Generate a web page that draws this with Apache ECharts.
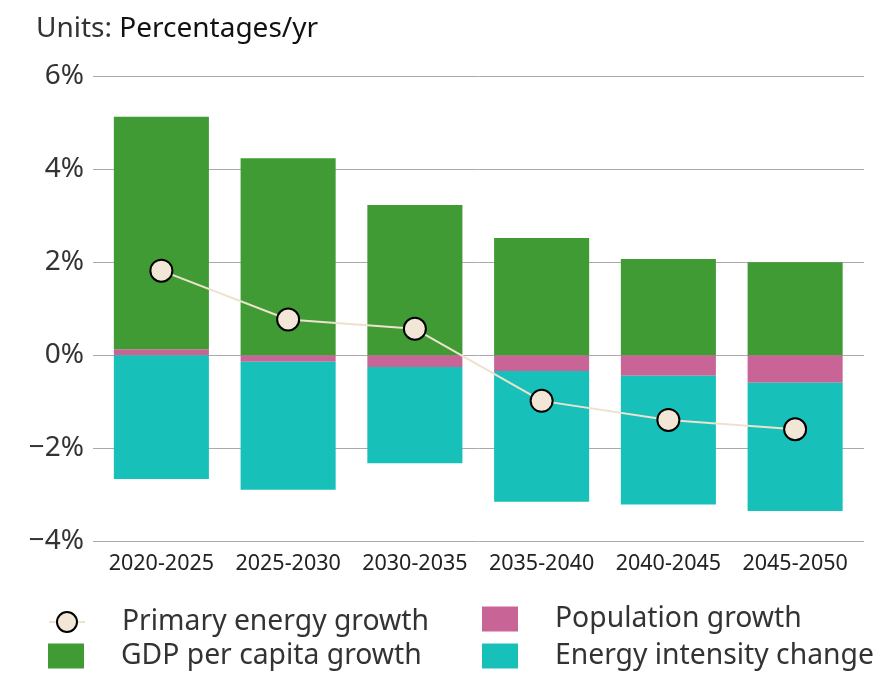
<!DOCTYPE html>
<html>
<head>
<meta charset="utf-8">
<script src="https://cdn.jsdelivr.net/npm/echarts@6/dist/echarts.min.js"></script>
<style>
  html, body { margin: 0; padding: 0; background: #fff; }
  #chart { width: 883px; height: 673px; }
</style>
</head>
<body>
<div id="chart"></div>
<script>
// Periods on the category axis
const periods = ['2020-2025', '2025-2030', '2030-2035', '2035-2040', '2040-2045', '2045-2050'];

// Components of primary energy growth, % per year
const gdpPerCapita = [5.00, 4.24, 3.23, 2.52, 2.07, 2.00];
const population = [0.13, -0.14, -0.25, -0.34, -0.44, -0.59];
const energyIntensity = [-2.66, -2.75, -2.07, -2.81, -2.77, -2.76];
const primaryEnergy = [1.82, 0.77, 0.57, -0.98, -1.39, -1.59];

// Value axis ticks
const yTicks = [-4, -2, 0, 2, 4, 6];

const FONT = '"Noto Sans", Lato, sans-serif';
const GREEN = '#409B35';
const PINK = '#C96596';
const TEAL = '#17C1BA';
const CREAM = '#F2E6D6';

function pctLabel(v) {
  return (v < 0 ? '\u2212' + Math.abs(v) : String(v)) + '%';
}

// one legend entry per component so each can be placed in its own row/column
function legendEntry(name, left, top, icon) {
  return {
    data: [icon ? { name: name, icon: icon } : name],
    left: left,
    top: top,
    itemWidth: 36,
    itemHeight: 25,
    selectedMode: false,
    padding: 0,
    textStyle: { fontFamily: FONT, fontSize: 28.3, color: '#333', padding: [0, 0, 0, 32] }
  };
}

const chart = echarts.init(document.getElementById('chart'), null, { renderer: 'canvas' });

const yMin = yTicks[0];
const yMax = yTicks[yTicks.length - 1];
const yStep = yTicks[1] - yTicks[0];

chart.setOption({
  backgroundColor: '#fff',
  animation: false,
  title: {
    text: '{u|Units: }{p|Percentages/yr}',
    left: 31,
    top: 10,
    textStyle: {
      fontWeight: 'normal',
      rich: {
        u: { fontFamily: FONT, fontSize: 28, fontWeight: 'normal', color: '#333' },
        p: { fontFamily: FONT, fontSize: 28, fontWeight: 'normal', color: '#111' }
      }
    }
  },
  legend: [
    legendEntry('Primary energy growth', 48, 608),
    legendEntry('GDP per capita growth', 48, 642, 'rect'),
    legendEntry('Population growth', 482, 605, 'rect'),
    legendEntry('Energy intensity change', 482, 642, 'rect')
  ],
  grid: [
    // bars and line
    { left: 98, right: 24.5, top: 76.3, bottom: 131.7, containLabel: false },
    // horizontal gridlines, slightly wider than the category band
    { left: 93, right: 19, top: 76.3, bottom: 131.7, containLabel: false }
  ],
  xAxis: [
    {
      type: 'category',
      gridIndex: 0,
      data: periods,
      position: 'bottom',
      axisLine: { show: false },
      axisTick: { show: false },
      axisLabel: { fontFamily: FONT, fontSize: 21.5, color: '#222', margin: 12, interval: 0 },
      boundaryGap: true
    },
    {
      type: 'value',
      gridIndex: 1,
      show: false,
      min: 0,
      max: 1
    }
  ],
  yAxis: [
    {
      type: 'value',
      gridIndex: 0,
      min: yMin,
      max: yMax,
      interval: yStep,
      axisLine: { show: false },
      axisTick: { show: false },
      axisLabel: { show: false },
      splitLine: { show: false }
    },
    {
      type: 'value',
      gridIndex: 1,
      min: yMin,
      max: yMax,
      interval: yStep,
      axisLine: { show: false },
      axisTick: { show: false },
      axisLabel: {
        fontFamily: FONT,
        fontSize: 28,
        color: '#333',
        margin: 9,
        formatter: pctLabel
      },
      splitLine: { show: true, lineStyle: { color: '#AAAAAA', width: 1 } }
    }
  ],
  series: [
    {
      name: 'Population growth',
      type: 'bar',
      stack: 'total',
      xAxisIndex: 0,
      yAxisIndex: 0,
      barWidth: '75%',
      itemStyle: { color: PINK },
      data: population
    },
    {
      name: 'GDP per capita growth',
      type: 'bar',
      stack: 'total',
      xAxisIndex: 0,
      yAxisIndex: 0,
      barWidth: '75%',
      itemStyle: { color: GREEN },
      data: gdpPerCapita
    },
    {
      name: 'Energy intensity change',
      type: 'bar',
      stack: 'total',
      xAxisIndex: 0,
      yAxisIndex: 0,
      barWidth: '75%',
      itemStyle: { color: TEAL },
      data: energyIntensity
    },
    {
      name: 'Primary energy growth',
      type: 'line',
      xAxisIndex: 0,
      yAxisIndex: 0,
      z: 5,
      symbol: 'circle',
      symbolSize: 22,
      lineStyle: { color: '#EEE2CF', width: 2 },
      itemStyle: { color: CREAM, borderColor: '#000', borderWidth: 2 },
      data: primaryEnergy
    }
  ]
});
</script>
</body>
</html>
